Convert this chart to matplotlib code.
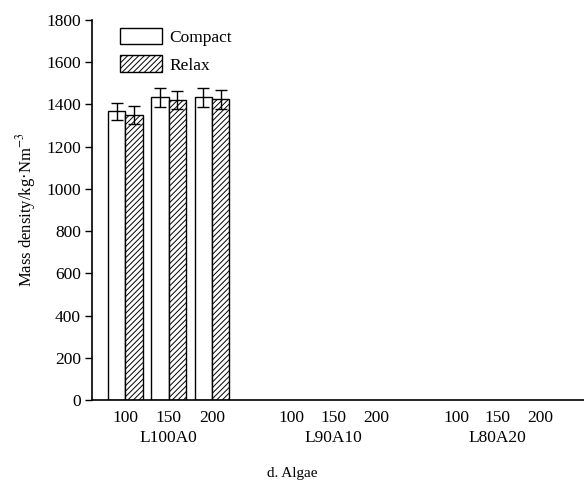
import matplotlib.pyplot as plt
import numpy as np

plt.rcParams['font.family'] = ['Liberation Serif', 'DejaVu Serif']
plt.rcParams['mathtext.fontset'] = 'stix'
plt.rcParams['hatch.linewidth'] = 0.7
plt.rcParams['hatch.color'] = '#505050'

groups = ['L100A0', 'L90A10', 'L80A20']
sizes = ['100', '150', '200']
compact = [1367, 1433, 1433]
compact_err = [40, 43, 43]
relax = [1351, 1420, 1424]
relax_err = [43, 43, 45]

pos = np.array([0, 1, 2, 3.85, 4.8, 5.8, 7.65, 8.6, 9.6])
w = 0.4

fig = plt.figure(figsize=(5.84, 4.83), dpi=100)
ax = fig.add_axes([92 / 584, 83 / 483, 492 / 584, 380 / 483])

n = len(compact)
ax.bar(pos[:n] - w / 2, compact, w, color='white', edgecolor='black', linewidth=1,
       yerr=compact_err, capsize=4, error_kw=dict(elinewidth=1, capthick=1), label='Compact')
ax.bar(pos[:n] + w / 2, relax, w, color='white', edgecolor='black', linewidth=1, hatch='//////',
       yerr=relax_err, capsize=4, error_kw=dict(elinewidth=1, capthick=1), label='Relax')

ax.set_xlim(-0.77, 10.6)
ax.set_ylim(0, 1800)
ax.set_yticks(range(0, 1801, 200))
ax.set_xticks(pos)
ax.set_xticklabels(sizes * 3)
ax.tick_params(axis='x', length=0, pad=7, labelsize=12.5)
ax.tick_params(axis='y', direction='out', length=5, width=1, labelsize=12.5, pad=3)
for s in ['top', 'right']:
    ax.spines[s].set_visible(False)
ax.spines['left'].set_linewidth(1.2)
ax.spines['bottom'].set_linewidth(1.2)

ax.set_ylabel('Mass density/kg·Nm$^{-3}$', fontsize=12, labelpad=6)

for i, g in enumerate(groups):
    ax.text(pos[i * 3 + 1], -0.1, g, transform=ax.get_xaxis_transform(),
            ha='center', va='center', fontsize=12.5)
fig.text(0.5, 1 - 473 / 483, 'd. Algae', ha='center', va='center', fontsize=11)

ax.legend(loc='upper left', bbox_to_anchor=(0.039, 1.003), frameon=False, fontsize=12.5,
          borderpad=0, handlelength=2.45, handleheight=1.1, handletextpad=0.4, labelspacing=0.55)

fig.savefig('out.png', dpi=100)
